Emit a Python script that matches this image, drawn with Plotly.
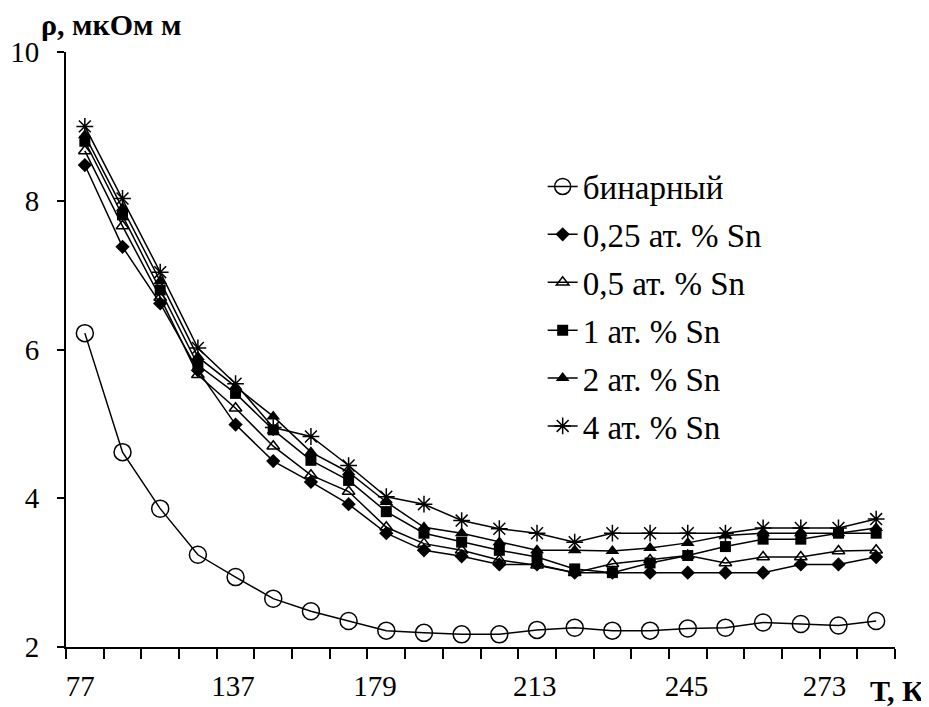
import plotly.graph_objects as go

# ---- data ----
binary = [6.22, 4.62, 3.86, 3.24, 2.94, 2.65, 2.48, 2.35, 2.22, 2.19, 2.17,
          2.17, 2.23, 2.26, 2.22, 2.22, 2.25, 2.26, 2.33, 2.31, 2.29, 2.35]
sn025 = [8.48, 7.38, 6.62, 5.72, 4.99, 4.50, 4.22, 3.92, 3.53, 3.30, 3.22,
         3.11, 3.11, 3.00, 3.00, 3.00, 3.00, 3.00, 3.00, 3.11, 3.11, 3.21]
sn05 = [8.67, 7.66, 6.70, 5.66, 5.21, 4.70, 4.31, 4.09, 3.61, 3.39, 3.30,
        3.17, 3.10, 3.00, 3.12, 3.17, 3.23, 3.13, 3.21, 3.21, 3.29, 3.30]
sn1 = [8.80, 7.81, 6.80, 5.79, 5.41, 4.92, 4.51, 4.24, 3.82, 3.53, 3.41,
       3.30, 3.21, 3.05, 3.00, 3.13, 3.23, 3.35, 3.45, 3.45, 3.53, 3.53]
sn2 = [8.88, 7.90, 6.92, 5.90, 5.50, 5.10, 4.62, 4.35, 3.95, 3.61, 3.53,
       3.41, 3.30, 3.30, 3.29, 3.33, 3.40, 3.50, 3.53, 3.53, 3.53, 3.60]
sn4 = [9.00, 8.03, 7.04, 6.02, 5.54, 4.95, 4.83, 4.44, 4.02, 3.92, 3.70,
       3.59, 3.53, 3.41, 3.53, 3.53, 3.53, 3.53, 3.60, 3.60, 3.60, 3.72]

series_names = ["бинарный", "0,25 ат. % Sn", "0,5 ат. % Sn",
                "1 ат. % Sn", "2 ат. % Sn", "4 ат. % Sn"]
x_tick_labels = ["77", "137", "179", "213", "245", "273"]
y_tick_values = [2, 4, 6, 8, 10]

# ---- layout constants ----
x_label_pos = [-0.12, 3.93, 7.70, 11.94, 15.97, 19.63]
FONT = "Liberation Serif"

cats = list(range(len(binary)))
all_series = [binary, sn025, sn05, sn1, sn2, sn4]
styles = [
    dict(symbol="circle-open", size=17, color="black", line=dict(width=1.5, color="black")),
    dict(symbol="diamond", size=11, color="black", line=dict(width=0, color="black")),
    dict(symbol="triangle-up-open", size=11, color="black", line=dict(width=1.5, color="black")),
    dict(symbol="square", size=11, color="black", line=dict(width=0, color="black")),
    dict(symbol="triangle-up", size=12, color="black", line=dict(width=0, color="black")),
    dict(symbol="asterisk-open", size=14, color="black", line=dict(width=1.5, color="black")),
]

fig = go.Figure()
for i, (name, vals, mk) in enumerate(zip(series_names, all_series, styles)):
    fig.add_trace(go.Scatter(
        x=cats, y=vals, name=name, mode="lines+markers",
        line=dict(color="black", width=1.5),
        marker=mk, legendgroup=f"g{i}",
    ))

# the page body adds an 8px margin, so the figure is 8px smaller on each axis
fig.update_layout(
    width=921, height=699,
    margin=dict(l=58, r=34, t=44, b=60, autoexpand=False),
    paper_bgcolor="white", plot_bgcolor="white",
    font=dict(family=FONT, size=29, color="black"),
    showlegend=True,
    legend=dict(
        x=0.575, y=0.821, xanchor="left", yanchor="top",
        font=dict(family=FONT, size=33, color="black"),
        bgcolor="rgba(0,0,0,0)", traceorder="grouped", tracegroupgap=2,
    ),
    xaxis=dict(
        range=[-0.5, len(binary) - 0.5], automargin=False,
        showgrid=False, zeroline=False,
        showline=True, linecolor="black", linewidth=2,
        tickmode="array",
        tickvals=x_label_pos,
        ticktext=x_tick_labels,
        ticks="", ticklabelstandoff=12,
        tickfont=dict(family=FONT, size=29, color="black"),
        minor=dict(tickmode="linear", tick0=-0.5, dtick=1, ticks="outside",
                   ticklen=10, tickwidth=1.5, tickcolor="black", showgrid=False),
    ),
    yaxis=dict(
        range=[2, 10], automargin=False,
        showgrid=False, zeroline=False,
        showline=True, linecolor="black", linewidth=2,
        tickmode="array", tickvals=y_tick_values,
        ticktext=[str(v) for v in y_tick_values],
        ticks="outside", ticklen=7, tickwidth=1.5, tickcolor="black",
        ticklabelstandoff=12,
        tickfont=dict(family=FONT, size=29, color="black"),
    ),
    annotations=[
        dict(text="<b>ρ, мкОм м</b>", xref="paper", yref="paper",
             x=-0.033, y=1.047, xanchor="left", yanchor="middle",
             showarrow=False, font=dict(family=FONT, size=30, color="black")),
        dict(text="<b>Т, К</b>", xref="paper", yref="paper",
             x=1.0024, y=-0.073, xanchor="center", yanchor="middle",
             showarrow=False, font=dict(family=FONT, size=30, color="black")),
    ],
)

fig.write_html("out.html")
